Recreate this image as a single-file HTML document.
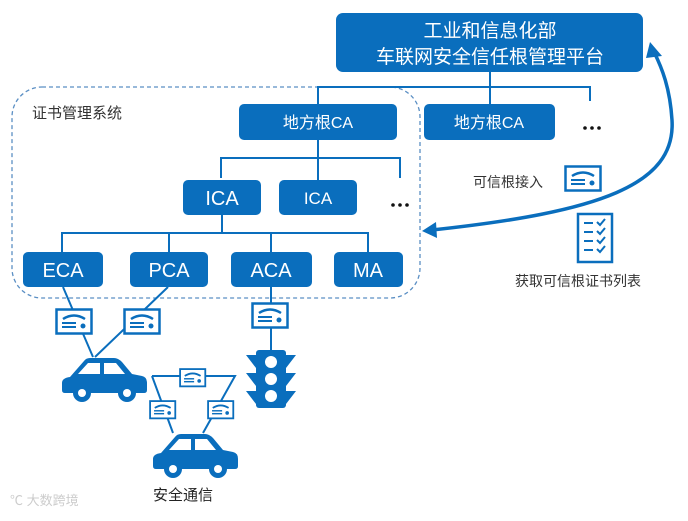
<!DOCTYPE html>
<html><head><meta charset="utf-8"><style>
body{margin:0;width:688px;height:516px;background:#fff;overflow:hidden;font-family:"Liberation Sans","Noto Sans CJK SC",sans-serif}
</style></head><body>
<svg width="688" height="516" viewBox="0 0 688 516" xmlns="http://www.w3.org/2000/svg" font-family="Liberation Sans, Noto Sans CJK SC, sans-serif">
<defs>
<g id="cert">
<rect x="1.5" y="1.5" width="35" height="24" fill="#fff" stroke="#0a6ebd" stroke-width="2.5"/>
<path d="M8 11 Q19 4 30 11" fill="none" stroke="#0a6ebd" stroke-width="2.5"/>
<line x1="7" y1="15" x2="21" y2="15" stroke="#0a6ebd" stroke-width="2"/>
<line x1="7" y1="19" x2="21" y2="19" stroke="#0a6ebd" stroke-width="2"/>
<circle cx="28" cy="18" r="2.5" fill="#0a6ebd"/>
</g>
<g id="car" fill="#0a6ebd">
<path d="M8 20 L22 4 Q24 1 28 1 L52 1 Q56 1 60 5 L70 17 L80 19 Q85 20 85 26 L85 33 Q85 36 82 36 L3 36 Q0 36 0 33 L0 26 Q0 21 8 20 Z"/>
<path d="M26 6 L38 6 L38 17 L16 17 Z M42 6 L54 6 L63 17 L42 17 Z" fill="#fff"/>
<circle cx="20" cy="36" r="9" fill="#0a6ebd"/><circle cx="20" cy="36" r="4" fill="#fff"/>
<circle cx="65" cy="36" r="9" fill="#0a6ebd"/><circle cx="65" cy="36" r="4" fill="#fff"/>
</g>
</defs>

<!-- dashed system box -->
<rect x="12" y="87" width="408" height="211" rx="30" fill="none" stroke="#5b8fc4" stroke-width="1.3" stroke-dasharray="4,3"/>
<text x="32" y="118" font-size="15" fill="#333">证书管理系统</text>

<!-- top box -->
<rect x="336" y="13" width="307" height="59" rx="7" fill="#0a6ebd"/>
<text x="490" y="37" font-size="19" fill="#fff" text-anchor="middle">工业和信息化部</text>
<text x="490" y="63" font-size="19" fill="#fff" text-anchor="middle">车联网安全信任根管理平台</text>

<g stroke="#0a6ebd" stroke-width="2" fill="none">
<path d="M490 72 V87 M318 104 V87 H590 V101 M490 87 V104"/>
<path d="M318 140 V158 M221 178 V158 H400 V178 M318 158 V180"/>
<path d="M222 215 V233 M62 252 V233 H368 V252 M169 233 V252 M271 233 V252"/>
<path d="M63 287 L93 357 M168 287 L95 357"/>
<path d="M271 287 V350"/>
<path d="M152 376 H235 L203 433 M152 376 L173 433"/>
</g>

<g fill="#0a6ebd">
<rect x="239" y="104" width="158" height="36" rx="5"/>
<rect x="424" y="104" width="131" height="36" rx="5"/>
<rect x="183" y="180" width="78" height="35" rx="5"/>
<rect x="279" y="180" width="78" height="35" rx="5"/>
<rect x="23" y="252" width="80" height="35" rx="5"/>
<rect x="130" y="252" width="78" height="35" rx="5"/>
<rect x="231" y="252" width="81" height="35" rx="5"/>
<rect x="334" y="252" width="69" height="35" rx="5"/>
</g>
<g fill="#fff" text-anchor="middle">
<text x="318" y="128" font-size="16">地方根CA</text>
<text x="489" y="128" font-size="16">地方根CA</text>
<text x="222" y="205" font-size="20">ICA</text>
<text x="318" y="204" font-size="17">ICA</text>
<text x="63" y="277" font-size="20">ECA</text>
<text x="169" y="277" font-size="20">PCA</text>
<text x="271" y="277" font-size="20">ACA</text>
<text x="368" y="277" font-size="20">MA</text>
</g>
<g fill="#111">
<circle cx="585" cy="128" r="1.8"/><circle cx="592" cy="128" r="1.8"/><circle cx="599" cy="128" r="1.8"/>
<circle cx="393" cy="205" r="1.8"/><circle cx="400" cy="205" r="1.8"/><circle cx="407" cy="205" r="1.8"/>
</g>

<!-- curve arrow -->
<path d="M432 230 C 600 212 676 185 672 120 C 670 88 662 68 654 52" fill="none" stroke="#0a6ebd" stroke-width="3.5"/>
<polygon points="650,42 662,56 646,58" fill="#0a6ebd"/>
<polygon points="422,231 436,222 437,238" fill="#0a6ebd"/>

<text x="473" y="187" font-size="14" fill="#333">可信根接入</text>
<use href="#cert" x="564" y="165"/>
<g stroke="#0a6ebd" stroke-width="2.5" fill="#fff">
<rect x="578" y="214" width="34" height="48"/>
</g>
<g stroke="#0a6ebd" stroke-width="2" fill="none">
<path d="M584 223 H593 M584 232 H593 M584 241 H593 M584 250 H593"/>
<path d="M597 222 l3 3 l5 -6 M597 231 l3 3 l5 -6 M597 240 l3 3 l5 -6 M597 249 l3 3 l5 -6"/>
</g>
<text x="515" y="286" font-size="14" fill="#333">获取可信根证书列表</text>

<!-- certs -->
<use href="#cert" x="55" y="308"/>
<use href="#cert" x="123" y="308"/>
<use href="#cert" x="251" y="302"/>
<g transform="translate(179,368) scale(0.72)"><use href="#cert"/></g>
<g transform="translate(149,400) scale(0.72)"><use href="#cert"/></g>
<g transform="translate(207,400) scale(0.72)"><use href="#cert"/></g>

<!-- cars -->
<use href="#car" x="62" y="357"/>
<use href="#car" x="153" y="433"/>

<!-- traffic light -->
<g fill="#0a6ebd">
<rect x="256" y="350" width="30" height="58" rx="3"/>
<polygon points="246,355 256,355 256,368"/><polygon points="296,355 286,355 286,368"/>
<polygon points="246,373 256,373 256,386"/><polygon points="296,373 286,373 286,386"/>
<polygon points="246,391 256,391 256,404"/><polygon points="296,391 286,391 286,404"/>
</g>
<g fill="#fff"><circle cx="271" cy="362" r="6"/><circle cx="271" cy="379" r="6"/><circle cx="271" cy="396" r="6"/></g>

<text x="153" y="500" font-size="15" fill="#222">安全通信</text>
<text x="10" y="505" font-size="13" fill="#ccc">℃ 大数跨境</text>
</svg>
</body></html>
